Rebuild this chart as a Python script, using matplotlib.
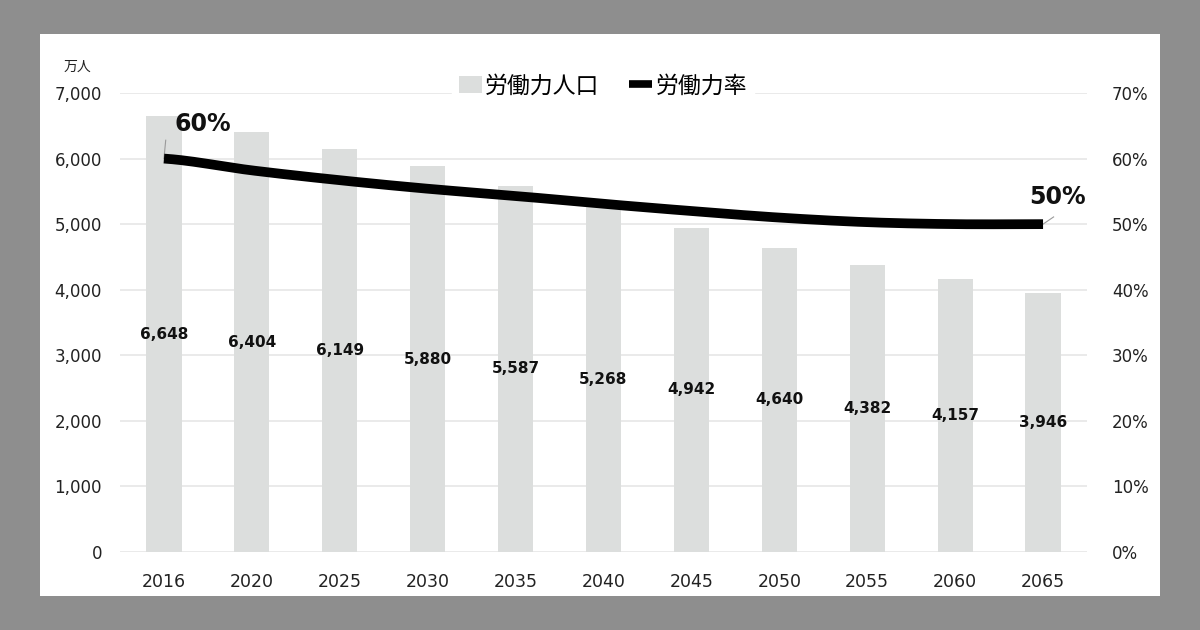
import matplotlib
matplotlib.use("Agg")
import matplotlib.pyplot as plt
from matplotlib.patches import Rectangle
from matplotlib.lines import Line2D
import numpy as np

plt.rcParams['font.family'] = ['DejaVu Sans', 'Noto Sans CJK JP']

years = ["2016", "2020", "2025", "2030", "2035", "2040", "2045", "2050", "2055", "2060", "2065"]
labor_pop = [6648, 6404, 6149, 5880, 5587, 5268, 4942, 4640, 4382, 4157, 3946]
labor_rate = [60.0, 58.2, 56.7, 55.4, 54.3, 53.1, 52.0, 51.0, 50.3, 50.0, 50.0]
left_ticks = [0, 1000, 2000, 3000, 4000, 5000, 6000, 7000]
right_ticks = [0, 10, 20, 30, 40, 50, 60, 70]

W, H = 1200, 630
fig = plt.figure(figsize=(W / 100, H / 100), dpi=100)
fig.patch.set_facecolor('#8e8e8e')
fig.patches.append(Rectangle((40 / W, 1 - 596 / H), 1120 / W, 562 / H,
                             transform=fig.transFigure, facecolor='white',
                             edgecolor='none', zorder=-10))

ax = fig.add_axes([120 / W, 1 - 552 / H, (1087 - 120) / W, (552 - 93) / H])
ax.set_facecolor('none')
x = list(range(len(years)))
ax.bar(x, labor_pop, width=0.4, color='#dcdedd', zorder=2)
ax.set_xlim(-0.5, len(years) - 0.5)
ax.set_ylim(0, 7000)
ax.set_yticks(left_ticks)
ax.set_yticklabels([f"{v:,}" for v in left_ticks])
ax.set_xticks(x)
ax.set_xticklabels(years)
ax.grid(axis='y', color='#e6e6e6', linewidth=1.2, zorder=0)
ax.set_axisbelow(True)
for s in ax.spines.values():
    s.set_visible(False)
ax.tick_params(axis='both', length=0, labelsize=12.5, colors='#222222')
ax.tick_params(axis='y', labelsize=12, pad=13)
ax.tick_params(axis='x', pad=15)

for xi, v in zip(x, labor_pop):
    ax.text(xi, v / 2, f"{v:,}", ha='center', va='center', fontsize=11,
            fontweight='bold', color='#111111', zorder=5)

ax2 = ax.twinx()
ax2.set_ylim(0, 70)
ax2.set_yticks(right_ticks)
ax2.set_yticklabels([f"{v}%" for v in right_ticks])
for s in ax2.spines.values():
    s.set_visible(False)
ax2.tick_params(axis='y', length=0, labelsize=12, colors='#222222', pad=18)

xs = np.array(x, dtype=float)
ys = np.array(labor_rate)
xf = np.linspace(xs[0], xs[-1], 300)

def catmull(xs, ys, xf):
    out = np.empty_like(xf)
    n = len(xs)
    for k, xv in enumerate(xf):
        i = min(int(np.floor(xv)), n - 2)
        t = xv - xs[i]
        p0 = ys[max(i - 1, 0)]; p1 = ys[i]; p2 = ys[i + 1]; p3 = ys[min(i + 2, n - 1)]
        out[k] = 0.5 * ((2 * p1) + (-p0 + p2) * t + (2 * p0 - 5 * p1 + 4 * p2 - p3) * t ** 2
                        + (-p0 + 3 * p1 - 3 * p2 + p3) * t ** 3)
    return out

ax2.plot(xf, catmull(xs, ys, xf), color='black', linewidth=7, solid_capstyle='butt', zorder=4)

ax2.plot([xs[0], xs[0] + 0.02], [ys[0], ys[0] + 2.8], color='#9a9a9a', linewidth=0.8)
ax2.text(xs[0] + 0.12, ys[0] + 5.3, f"{ys[0]:.0f}%", fontsize=17, fontweight='bold',
         ha='left', va='center', color='#111111')
ax2.plot([xs[-1], xs[-1] + 0.12], [ys[-1], ys[-1] + 1.1], color='#9a9a9a', linewidth=0.8)
ax2.text(xs[-1] + 0.17, ys[-1] + 4.1, f"{ys[-1]:.0f}%", fontsize=17, fontweight='bold',
         ha='center', va='center', color='#111111')

fig.text(77 / W, 1 - 67 / H, "万人", fontsize=10, ha='center', va='center',
         family=['Noto Sans CJK JP'], color='#222222')

handles = [Rectangle((0, 0), 1, 1, facecolor='#dcdedd', edgecolor='none'),
           Line2D([0], [0], color='black', linewidth=5.5, solid_capstyle='butt')]
leg = fig.legend(handles, ["労働力人口", "労働力率"], loc='center',
                 bbox_to_anchor=(603 / W, 1 - 86 / H), ncol=2, frameon=True,
                 prop={'family': ['Noto Sans CJK JP'], 'size': 16.5},
                 handlelength=1.0, handletextpad=0.15, columnspacing=1.3,
                 borderpad=0.3)
leg.get_frame().set_facecolor('white')
leg.get_frame().set_edgecolor('white')
leg.get_frame().set_alpha(1)

fig.savefig("out.png", dpi=100, facecolor=fig.get_facecolor())
